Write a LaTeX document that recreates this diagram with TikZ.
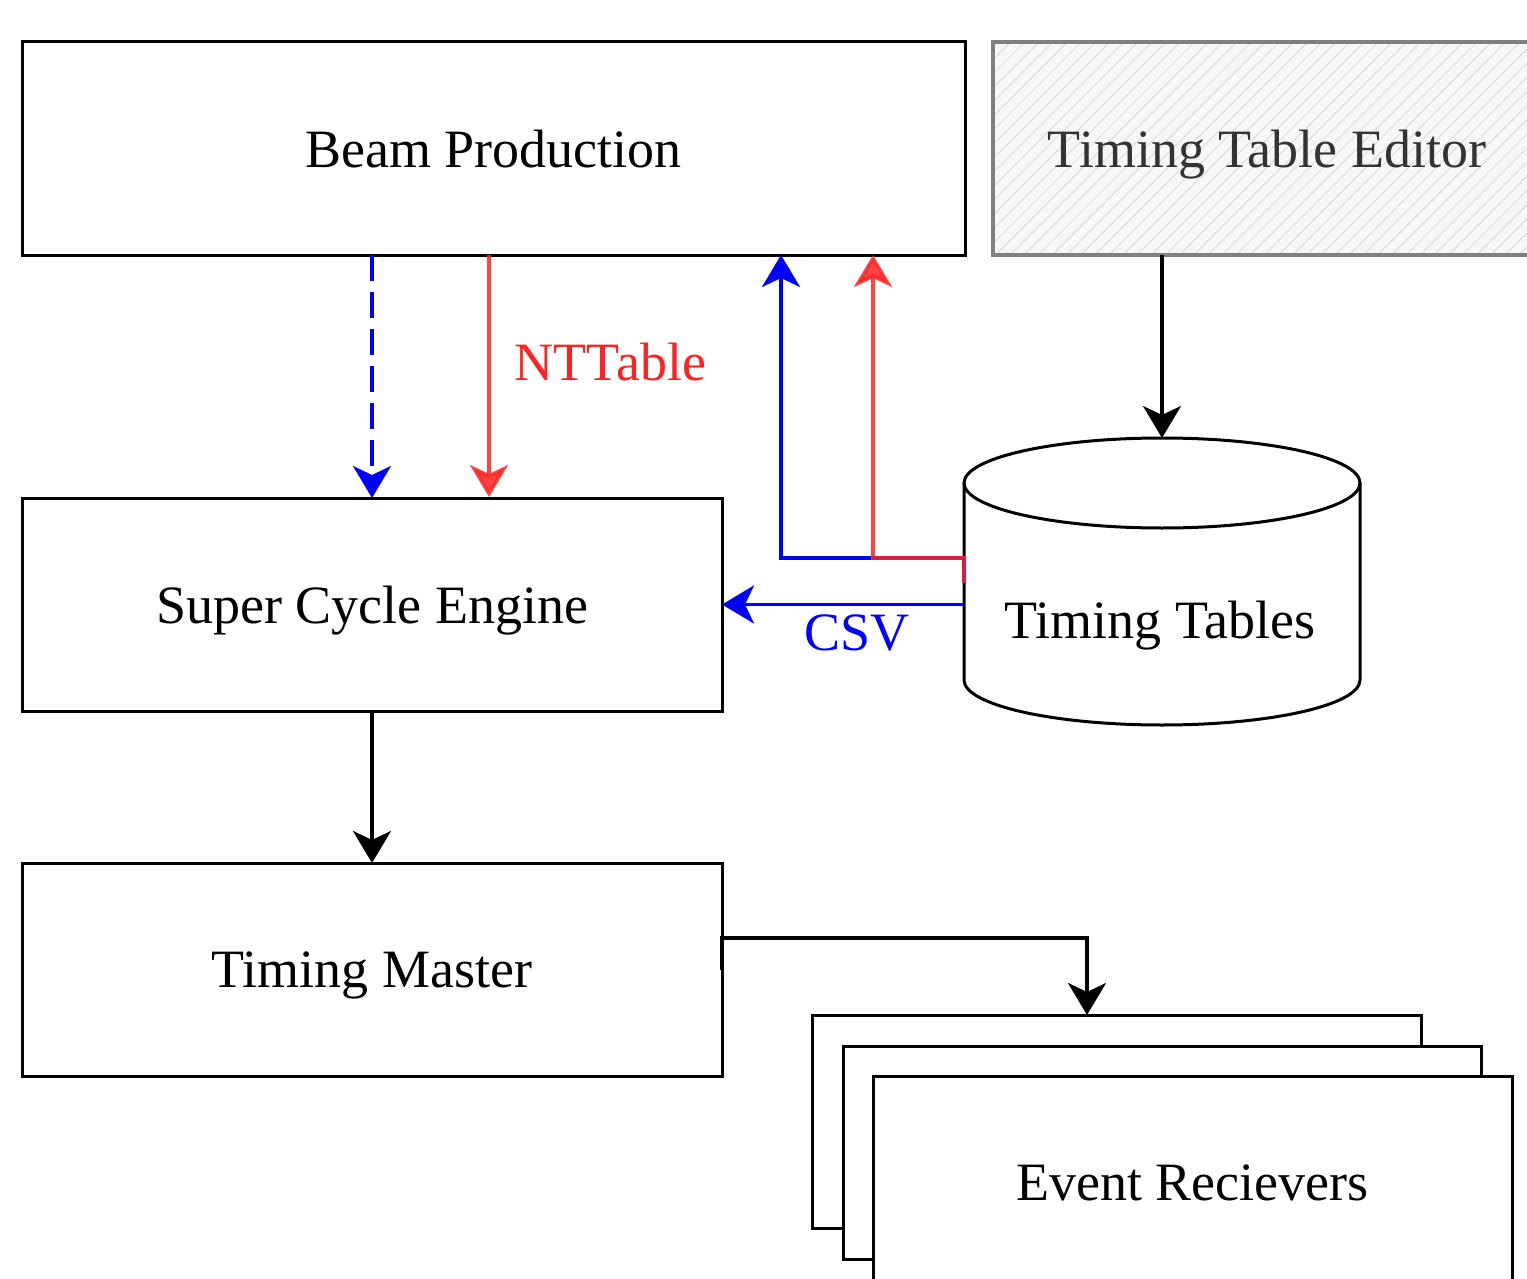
\documentclass[tikz,border=0pt]{standalone}
\usepackage{fontspec}
\setmainfont{Liberation Serif}
\usepackage{xcolor}
\usetikzlibrary{positioning}
\usetikzlibrary{arrows.meta}
\usetikzlibrary{patterns.meta}

\definecolor{ntred}{HTML}{FF2222}
\definecolor{csvblue}{HTML}{0000FF}
\definecolor{editgray}{HTML}{333333}

\begin{document}
\begin{tikzpicture}[x=0.5pt, y=-0.5pt,
    box/.style={draw, line width=1.5pt, fill=white, minimum width=350pt,
        minimum height=106.5pt, inner sep=0pt, outer sep=0pt, text depth=0pt,
        font=\fontsize{27}{32}\selectfont},
    flow/.style={line width=1.8pt, -{Stealth[length=16pt, width=19pt, inset=4.5pt]}},
    lbl/.style={inner sep=0pt, text depth=0pt, font=\fontsize{27}{32}\selectfont}]
    \clip (0,0) rectangle (1527,1279);

    % Boxes
    \node[box, minimum width=471.5pt] (bp) at (493.5,148.5) {Beam Production};
    \node[box, minimum width=274pt, draw=gray, line width=2pt, text=editgray,
        preaction={fill=gray!6},
        pattern={Lines[angle=45, distance=5pt, line width=0.4pt]},
        pattern color=gray!30] (tte) at (1267,148.5) {Timing Table Editor};
    \node[box] (sce) at (372,604.5) {Super Cycle Engine};
    \node[box] (tm) at (372,969.5) {Timing Master};
    \node[box, minimum width=304.5pt] (er1) at (1116.5,1121.5) {};
    \node[box, minimum width=319pt] (er2) at (1162,1152.5) {};
    \node[box, minimum width=319.5pt] (er3) at (1192.5,1182.5) {Event Recievers};

    % Timing tables cylinder
    \draw[line width=1.5pt, fill=white] (964,483) -- (964,680)
        arc[start angle=180, end angle=0, x radius=198, y radius=45] -- (1360,483);
    \draw[line width=1.5pt] (1162,483) ellipse[x radius=198, y radius=45];
    \node[lbl] (tt) at (1160,620) {Timing Tables};

    % Define points
    \coordinate (ttj) at (964,583);
    \coordinate (turn) at (964,558);
    \coordinate (ttw) at (964,604.5);
    \coordinate (tttop) at (1162,438);
    \coordinate (b1) at (781,255);
    \coordinate (r1) at (873,255);
    \coordinate (nt) at (489,497);
    \coordinate (bend) at (1087,938);

    % Draw arrows
    \draw[flow, csvblue, dash pattern=on 13pt off 5.5pt] (bp.south -| sce.north) -- (sce.north);
    \draw[flow, ntred, opacity=0.85] (bp.south -| nt) -- (nt)
        node[lbl, pos=0.44, right=12pt, text opacity=1] (ntl) {NTTable};
    \draw[flow, csvblue] (ttj) -- (turn) -| (b1);
    \draw[flow, ntred, opacity=0.85] (ttj) -- (turn) -| (r1);
    \draw[flow, csvblue] (ttw) -- (sce.east);
    \node[lbl, text=csvblue] (csv) at (857,633) {CSV};
    \draw[flow] (tttop |- tte.south) -- (tttop);
    \draw[flow] (sce.south) -- (tm.north);
    \draw[flow] (tm.east) |- (bend) -- (bend |- er1.north);
\end{tikzpicture}
\end{document}
